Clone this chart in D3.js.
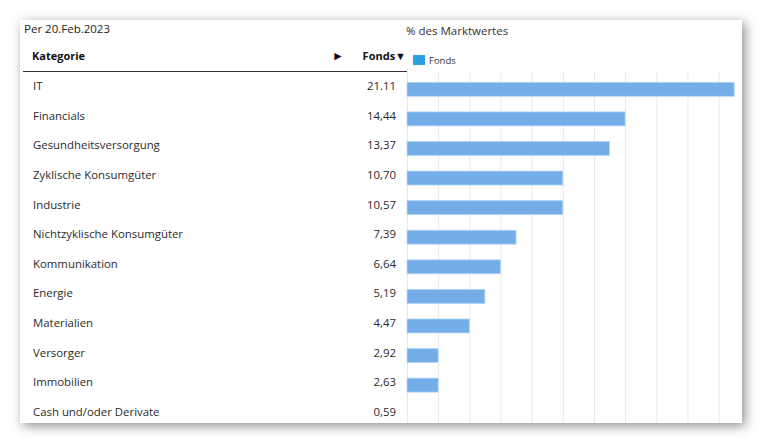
<!DOCTYPE html>
<html>
<head>
<meta charset="utf-8">
<script src="https://cdn.jsdelivr.net/npm/d3@7"></script>
<style>
  body { margin: 0; background: #fff; }
  svg { display: block; font-family: "Open Sans", sans-serif; }
</style>
</head>
<body>
<div id="chart"></div>
<script>
// table rows
var categories = ["IT", "Financials", "Gesundheitsversorgung", "Zyklische Konsumgüter", "Industrie",
  "Nichtzyklische Konsumgüter", "Kommunikation", "Energie", "Materialien", "Versorger", "Immobilien",
  "Cash und/oder Derivate"];
var fondsLabels = ["21.11", "14,44", "13,37", "10,70", "10,57", "7,39", "6,64", "5,19", "4,47", "2,92", "2,63", "0,59"];
// bar lengths as they show in the picture (the chart cuts to whole numbers)
var barValues = [21, 14, 13, 10, 10, 7, 6, 5, 4, 2, 2, 0];
var gridTicks = [0, 2, 4, 6, 8, 10, 12, 14, 16, 18, 20];

var width = 762, height = 443;

var svg = d3.select("#chart").append("svg")
    .attr("width", width)
    .attr("height", height);

var defs = svg.append("defs");
var f = defs.append("filter").attr("id", "shadow")
    .attr("x", "-5%").attr("y", "-8%").attr("width", "112%").attr("height", "120%");
f.append("feDropShadow")
    .attr("dx", 3).attr("dy", 3).attr("stdDeviation", 6)
    .attr("flood-color", "#000").attr("flood-opacity", 0.45);

// card
svg.append("rect")
    .attr("x", 20).attr("y", 20)
    .attr("width", 722).attr("height", 403)
    .attr("fill", "#fff")
    .attr("filter", "url(#shadow)");

var clip = defs.append("clipPath").attr("id", "card");
clip.append("rect").attr("x", 20).attr("y", 20).attr("width", 722).attr("height", 403);

var g = svg.append("g").attr("clip-path", "url(#card)");

var x = d3.scaleLinear().domain([0, 21.5]).range([407, 742]);
var y = d3.scaleBand().domain(categories).range([72.5, 427.5]);

// grid
g.selectAll("line.grid")
  .data(gridTicks)
  .enter()
  .append("line")
    .attr("class", "grid")
    .attr("x1", function(d){ return x(d) + 0.5 })
    .attr("x2", function(d){ return x(d) + 0.5 })
    .attr("y1", 72)
    .attr("y2", 423)
    .attr("stroke", "#e9e9ec")
    .attr("stroke-width", 1);

// bars
g.selectAll("rect.bar")
  .data(categories)
  .enter()
  .append("rect")
    .attr("class", "bar")
    .attr("x", x(0))
    .attr("y", function(d){ return y(d) + y.bandwidth() / 2 - 5 })
    .attr("width", function(d, i){ return x(barValues[i]) - x(0) })
    .attr("height", 14)
    .attr("fill", "#74aee9")
    .attr("stroke", "#b9d6f5")
    .attr("stroke-width", 0.8)
    .style("display", function(d, i){ return barValues[i] > 0 ? null : "none" });

// table text
g.selectAll("text.cat")
  .data(categories)
  .enter()
  .append("text")
    .attr("class", "cat")
    .attr("x", 33)
    .attr("y", function(d){ return y(d) + y.bandwidth() / 2 + 3 })
    .text(function(d){ return d })
    .attr("font-size", "11.4px")
    .attr("fill", "#2a2a2a");

g.selectAll("text.val")
  .data(categories)
  .enter()
  .append("text")
    .attr("class", "val")
    .attr("x", 396)
    .attr("text-anchor", "end")
    .attr("y", function(d){ return y(d) + y.bandwidth() / 2 + 3 })
    .text(function(d, i){ return fondsLabels[i] })
    .attr("font-size", "11.4px")
    .attr("fill", "#2a2a2a");

// header
g.append("text").attr("x", 24).attr("y", 33).text("Per 20.Feb.2023")
    .attr("font-size", "11.5px").attr("fill", "#222");
g.append("text").attr("x", 32).attr("y", 60).text("Kategorie")
    .attr("font-size", "11px").attr("font-weight", "bold").attr("fill", "#111");
g.append("text").attr("x", 332).attr("y", 60).text("►")
    .attr("font-size", "12px").attr("fill", "#111");
g.append("text").attr("x", 406).attr("y", 60).attr("text-anchor", "end").text("Fonds▼")
    .attr("font-size", "11px").attr("font-weight", "bold").attr("fill", "#111");
g.append("line").attr("x1", 23).attr("x2", 407).attr("y1", 71.5).attr("y2", 71.5)
    .attr("stroke", "#333").attr("stroke-width", 1);

g.append("text").attr("x", 406).attr("y", 35).text("% des Marktwertes")
    .attr("font-size", "11.5px").attr("fill", "#333");

// legend
g.append("rect").attr("x", 413).attr("y", 55).attr("width", 12).attr("height", 10)
    .attr("fill", "#2d9fe2");
g.append("text").attr("x", 429).attr("y", 64).text("Fonds")
    .attr("font-size", "9.5px").attr("fill", "#333");
</script>
</body>
</html>
